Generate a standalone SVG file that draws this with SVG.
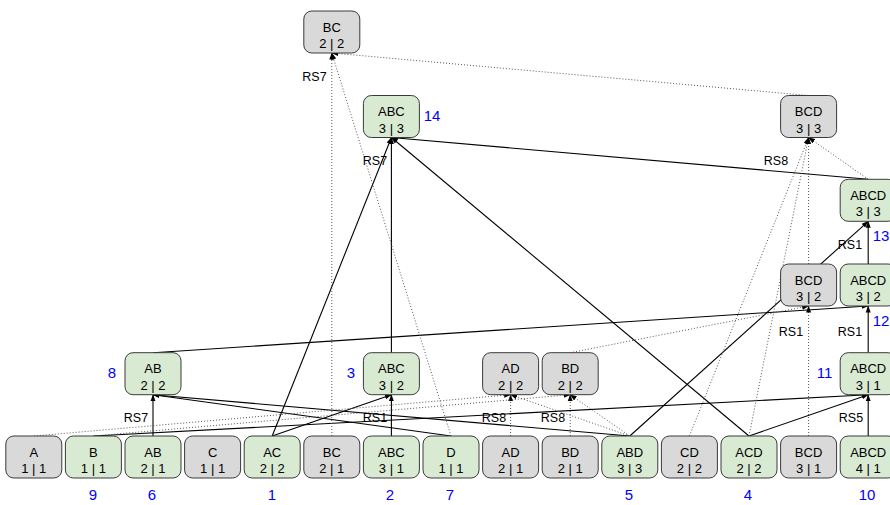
<svg xmlns="http://www.w3.org/2000/svg" width="890" height="505" viewBox="0 0 890 505">
<defs>
<marker id="ah" markerUnits="userSpaceOnUse" markerWidth="7" markerHeight="6" viewBox="0 0 7 6" refX="6.5" refY="3" orient="auto">
<path d="M0,0.5 L7,3 L0,5.5 z" fill="#000"/>
</marker>
<style>
.box{stroke:#3a3a3a;stroke-width:1}
.g{fill:#d9ead3}
.y{fill:#d9d9d9}
.t{font-family:"Liberation Sans",Arial,sans-serif;font-size:13px;fill:#000;text-anchor:middle}
.lb{font-family:"Liberation Sans",Arial,sans-serif;font-size:12.5px;fill:#000;text-anchor:middle}
.num{font-family:"Liberation Sans",Arial,sans-serif;font-size:15px;fill:#0000ff;text-anchor:middle}
.s{stroke:#000;stroke-width:1.1;fill:none;marker-end:url(#ah)}
.d{stroke:#555;stroke-width:1;stroke-dasharray:1 2;fill:none;marker-end:url(#ah)}
</style>
</defs>
<rect width="890" height="505" fill="#fff"/>
<g id="connectors">
<line class="s" x1="153" y1="436" x2="153" y2="394.7"/>
<line class="s" x1="451" y1="436" x2="153" y2="394.7"/>
<line class="s" x1="629.8" y1="436" x2="153" y2="394.7"/>
<line class="s" x1="272.2" y1="436" x2="391.4" y2="394.7"/>
<line class="s" x1="391.4" y1="436" x2="391.4" y2="394.7"/>
<line class="s" x1="272.2" y1="436" x2="391.4" y2="137.5"/>
<line class="s" x1="391.4" y1="352.7" x2="391.4" y2="137.5"/>
<line class="s" x1="749" y1="436" x2="391.4" y2="137.5"/>
<line class="s" x1="868.2" y1="179.3" x2="391.4" y2="137.5"/>
<line class="s" x1="629.8" y1="436" x2="868.2" y2="221.3"/>
<line class="s" x1="868.2" y1="264" x2="868.2" y2="221.3"/>
<line class="s" x1="153" y1="352.7" x2="868.2" y2="306"/>
<line class="s" x1="868.2" y1="352.7" x2="868.2" y2="306"/>
<line class="s" x1="93.4" y1="436" x2="868.2" y2="394.7"/>
<line class="s" x1="749" y1="436" x2="868.2" y2="394.7"/>
<line class="s" x1="868.2" y1="436" x2="868.2" y2="394.7"/>
<line class="d" x1="331.8" y1="436" x2="331.8" y2="53"/>
<line class="d" x1="451" y1="436" x2="331.8" y2="53"/>
<line class="d" x1="808.6" y1="95.5" x2="331.8" y2="53"/>
<line class="d" x1="868.2" y1="179.3" x2="808.6" y2="137.5"/>
<line class="d" x1="689.4" y1="436" x2="808.6" y2="137.5"/>
<line class="d" x1="749" y1="436" x2="808.6" y2="137.5"/>
<line class="d" x1="808.6" y1="264" x2="808.6" y2="137.5"/>
<line class="d" x1="808.6" y1="436" x2="808.6" y2="306"/>
<line class="d" x1="570.2" y1="352.7" x2="808.6" y2="306"/>
<line class="d" x1="33.8" y1="436" x2="510.6" y2="394.7"/>
<line class="d" x1="510.6" y1="436" x2="510.6" y2="394.7"/>
<line class="d" x1="629.8" y1="436" x2="510.6" y2="394.7"/>
<line class="d" x1="93.4" y1="436" x2="570.2" y2="394.7"/>
<line class="d" x1="570.2" y1="436" x2="570.2" y2="394.7"/>
<line class="d" x1="629.8" y1="436" x2="570.2" y2="394.7"/>
</g>
<g id="edge-labels">
<text class="lb" x="314.5" y="80.5">RS7</text>
<text class="lb" x="375" y="165">RS7</text>
<text class="lb" x="776" y="165">RS8</text>
<text class="lb" x="850" y="249">RS1</text>
<text class="lb" x="791" y="336">RS1</text>
<text class="lb" x="850" y="336">RS1</text>
<text class="lb" x="136" y="422">RS7</text>
<text class="lb" x="375" y="422">RS1</text>
<text class="lb" x="494" y="422">RS8</text>
<text class="lb" x="553" y="422">RS8</text>
<text class="lb" x="851" y="422">RS5</text>
</g>
<g id="n-A-11"><rect class="box y" x="5.8" y="436" width="56" height="42" rx="8"/><text class="t" x="33.8" y="456.5">A</text><text class="t" x="33.8" y="473">1 | 1</text></g>
<g id="n-B-11"><rect class="box g" x="65.4" y="436" width="56" height="42" rx="8"/><text class="t" x="93.4" y="456.5">B</text><text class="t" x="93.4" y="473">1 | 1</text></g>
<g id="n-AB-21"><rect class="box g" x="125" y="436" width="56" height="42" rx="8"/><text class="t" x="153" y="456.5">AB</text><text class="t" x="153" y="473">2 | 1</text></g>
<g id="n-C-11"><rect class="box y" x="184.6" y="436" width="56" height="42" rx="8"/><text class="t" x="212.6" y="456.5">C</text><text class="t" x="212.6" y="473">1 | 1</text></g>
<g id="n-AC-22"><rect class="box g" x="244.2" y="436" width="56" height="42" rx="8"/><text class="t" x="272.2" y="456.5">AC</text><text class="t" x="272.2" y="473">2 | 2</text></g>
<g id="n-BC-21"><rect class="box y" x="303.8" y="436" width="56" height="42" rx="8"/><text class="t" x="331.8" y="456.5">BC</text><text class="t" x="331.8" y="473">2 | 1</text></g>
<g id="n-ABC-31"><rect class="box g" x="363.4" y="436" width="56" height="42" rx="8"/><text class="t" x="391.4" y="456.5">ABC</text><text class="t" x="391.4" y="473">3 | 1</text></g>
<g id="n-D-11"><rect class="box g" x="423" y="436" width="56" height="42" rx="8"/><text class="t" x="451" y="456.5">D</text><text class="t" x="451" y="473">1 | 1</text></g>
<g id="n-AD-21"><rect class="box y" x="482.6" y="436" width="56" height="42" rx="8"/><text class="t" x="510.6" y="456.5">AD</text><text class="t" x="510.6" y="473">2 | 1</text></g>
<g id="n-BD-21"><rect class="box y" x="542.2" y="436" width="56" height="42" rx="8"/><text class="t" x="570.2" y="456.5">BD</text><text class="t" x="570.2" y="473">2 | 1</text></g>
<g id="n-ABD-33"><rect class="box g" x="601.8" y="436" width="56" height="42" rx="8"/><text class="t" x="629.8" y="456.5">ABD</text><text class="t" x="629.8" y="473">3 | 3</text></g>
<g id="n-CD-22"><rect class="box y" x="661.4" y="436" width="56" height="42" rx="8"/><text class="t" x="689.4" y="456.5">CD</text><text class="t" x="689.4" y="473">2 | 2</text></g>
<g id="n-ACD-22"><rect class="box g" x="721" y="436" width="56" height="42" rx="8"/><text class="t" x="749" y="456.5">ACD</text><text class="t" x="749" y="473">2 | 2</text></g>
<g id="n-BCD-31"><rect class="box y" x="780.6" y="436" width="56" height="42" rx="8"/><text class="t" x="808.6" y="456.5">BCD</text><text class="t" x="808.6" y="473">3 | 1</text></g>
<g id="n-ABCD-41"><rect class="box g" x="840.2" y="436" width="56" height="42" rx="8"/><text class="t" x="868.2" y="456.5">ABCD</text><text class="t" x="868.2" y="473">4 | 1</text></g>
<g id="n-AB-22"><rect class="box g" x="125" y="352.7" width="56" height="42" rx="8"/><text class="t" x="153" y="373.2">AB</text><text class="t" x="153" y="389.7">2 | 2</text></g>
<g id="n-ABC-32"><rect class="box g" x="363.4" y="352.7" width="56" height="42" rx="8"/><text class="t" x="391.4" y="373.2">ABC</text><text class="t" x="391.4" y="389.7">3 | 2</text></g>
<g id="n-AD-22"><rect class="box y" x="482.6" y="352.7" width="56" height="42" rx="8"/><text class="t" x="510.6" y="373.2">AD</text><text class="t" x="510.6" y="389.7">2 | 2</text></g>
<g id="n-BD-22"><rect class="box y" x="542.2" y="352.7" width="56" height="42" rx="8"/><text class="t" x="570.2" y="373.2">BD</text><text class="t" x="570.2" y="389.7">2 | 2</text></g>
<g id="n-ABCD-31"><rect class="box g" x="840.2" y="352.7" width="56" height="42" rx="8"/><text class="t" x="868.2" y="373.2">ABCD</text><text class="t" x="868.2" y="389.7">3 | 1</text></g>
<g id="n-BCD-32"><rect class="box y" x="780.6" y="264" width="56" height="42" rx="8"/><text class="t" x="808.6" y="284.5">BCD</text><text class="t" x="808.6" y="301">3 | 2</text></g>
<g id="n-ABCD-32"><rect class="box g" x="840.2" y="264" width="56" height="42" rx="8"/><text class="t" x="868.2" y="284.5">ABCD</text><text class="t" x="868.2" y="301">3 | 2</text></g>
<g id="n-ABCD-33"><rect class="box g" x="840.2" y="179.3" width="56" height="42" rx="8"/><text class="t" x="868.2" y="199.8">ABCD</text><text class="t" x="868.2" y="216.3">3 | 3</text></g>
<g id="n-ABC-33"><rect class="box g" x="363.4" y="95.5" width="56" height="42" rx="8"/><text class="t" x="391.4" y="116">ABC</text><text class="t" x="391.4" y="132.5">3 | 3</text></g>
<g id="n-BCD-33"><rect class="box y" x="780.6" y="95.5" width="56" height="42" rx="8"/><text class="t" x="808.6" y="116">BCD</text><text class="t" x="808.6" y="132.5">3 | 3</text></g>
<g id="n-BC-22"><rect class="box y" x="303.8" y="11" width="56" height="42" rx="8"/><text class="t" x="331.8" y="31.5">BC</text><text class="t" x="331.8" y="48">2 | 2</text></g>
<g id="order-numbers">
<text class="num" x="432" y="121">14</text>
<text class="num" x="881" y="241">13</text>
<text class="num" x="881" y="326">12</text>
<text class="num" x="824.5" y="378">11</text>
<text class="num" x="112" y="378">8</text>
<text class="num" x="351" y="378">3</text>
<text class="num" x="93" y="500">9</text>
<text class="num" x="152" y="500">6</text>
<text class="num" x="272" y="500">1</text>
<text class="num" x="390" y="500">2</text>
<text class="num" x="450" y="500">7</text>
<text class="num" x="629" y="500">5</text>
<text class="num" x="748" y="500">4</text>
<text class="num" x="867" y="500">10</text>
</g>
</svg>
